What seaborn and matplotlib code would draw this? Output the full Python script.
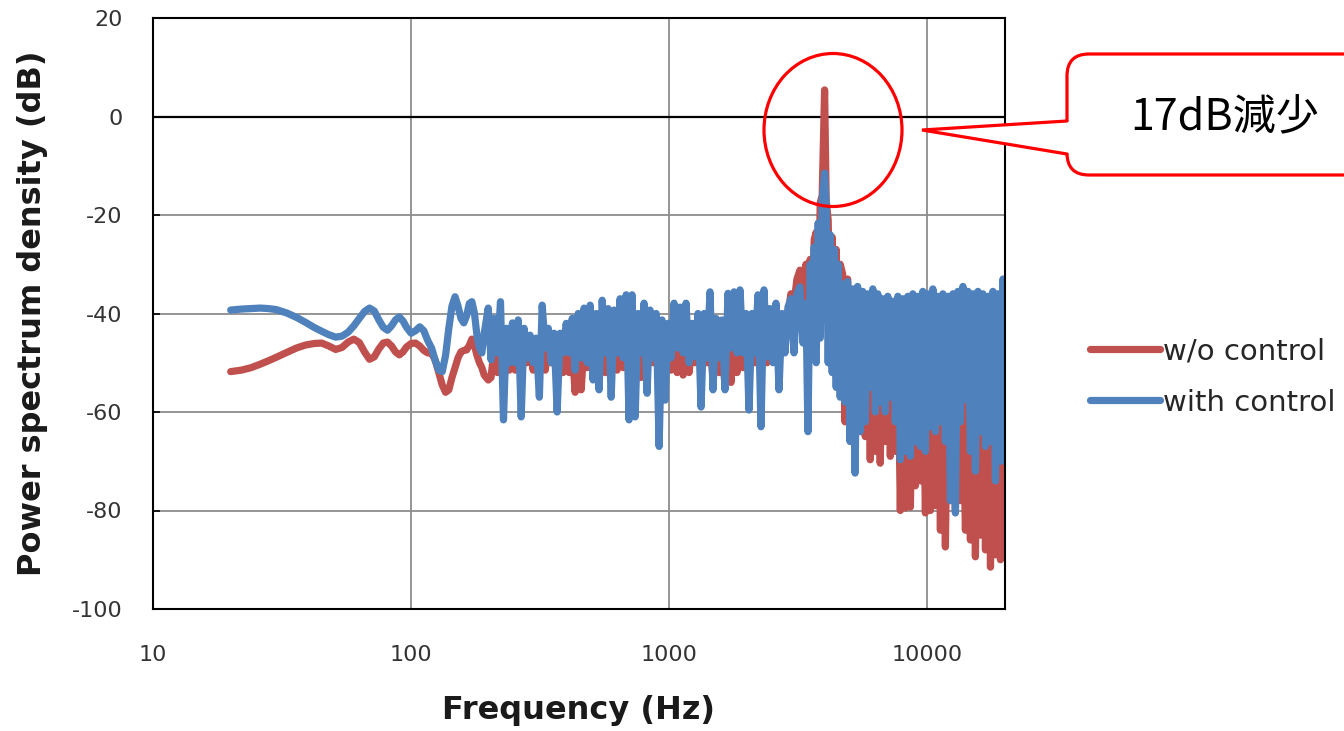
import pandas as pd
import matplotlib
matplotlib.use('Agg')
import matplotlib.pyplot as plt
import seaborn as sns
from matplotlib.patches import Ellipse, FancyBboxPatch, Polygon
from matplotlib.ticker import NullLocator

# frequency grid (Hz): smooth low band, noisy mid band, peak, dense high band
freq_hz = [
    # 20 - 192 Hz
    20, 22, 24, 26, 28, 30, 33, 36, 39, 42, 45, 48, 51, 54, 57, 60, 63, 66, 69, 72,
    75, 78, 81, 84, 87, 90, 93, 96, 100, 104, 108, 112, 116, 120, 124, 128, 132, 136,
    140, 144, 148, 152, 156, 160, 164, 168, 172, 176, 180, 184, 188, 192,
    # 199 - 2885 Hz
    199, 204, 210, 216, 222, 228, 234, 240, 247, 253,
    260, 267, 274, 282, 289, 297, 305, 314, 322, 331,
    340, 349, 358, 368, 378, 388, 399, 410, 421, 432,
    444, 456, 468, 481, 494, 507, 521, 535, 550, 565,
    580, 596, 612, 628, 645, 663, 681, 699, 718, 738,
    758, 778, 799, 821, 843, 866, 890, 914, 938, 964,
    990, 1017, 1044, 1073, 1102, 1132, 1162, 1194, 1226, 1259,
    1293, 1329, 1365, 1402, 1439, 1478, 1519, 1560, 1602, 1645,
    1690, 1736, 1783, 1831, 1881, 1932, 1984, 2038, 2093, 2150,
    2208, 2268, 2329, 2392, 2457, 2524, 2592, 2663, 2735, 2809,
    2885,
    # around the 4 kHz tone
    2963, 3044, 3126, 3211, 3298, 3387, 3448, 3518, 3581, 3646, 3711, 3778,
    3846, 3915, 4000, 4057, 4130, 4205, 4281, 4358, 4436, 4516, 4597,
    # 4.7 - 20 kHz
    4700, 4800, 4910, 5020, 5140, 5250, 5370, 5490, 5620, 5750, 5880, 6010, 6150,
    6290, 6430, 6570, 6720, 6870, 7030, 7190, 7350, 7520, 7690, 7860, 8040, 8220,
    8410, 8600, 8790, 8990, 9190, 9400, 9610, 9830, 10050, 10280, 10510, 10750,
    10990, 11240, 11490, 11750, 12020, 12290, 12570, 12850, 13140, 13440, 13740,
    14050, 14370, 14690, 15020, 15360, 15710, 16070, 16430, 16800, 17180, 17570,
    17960, 18370, 18780, 19210, 19640, 20000,
]

wo_control_db = [
    -51.8, -51.5, -51.0, -50.3, -49.6, -48.9, -47.9, -47.0, -46.4, -46.1, -46.0, -46.6,
    -47.3, -46.9, -45.8, -45.2, -45.9, -47.8, -49.3, -48.8, -47.2, -46.0, -45.8, -46.6,
    -47.8, -48.4, -47.8, -46.8, -46.1, -46.0, -46.6, -47.5, -48.0, -48.0, -49.5, -52.0,
    -54.5, -56.0, -55.5, -53.0, -51.0, -49.0, -47.8, -47.5, -47.4, -46.5, -45.2, -46.5,
    -48.5, -50.0, -51.0, -52.5,
    -53.5, -53, -47, -52, -46, -52, -45, -51.5, -44, -51.5,
    -45, -51.5, -46, -50, -46, -51.5, -46, -51, -46, -51.5,
    -46, -50, -46, -49, -46, -52, -46, -52, -47, -56,
    -47, -55.5, -46, -51, -46, -52, -45, -50, -45, -52,
    -45, -50, -45, -51.5, -45, -51, -45, -52, -46, -54,
    -46, -53, -46, -51, -45, -50, -46, -52, -46, -50,
    -45, -51.5, -46, -52, -46, -52.5, -46, -52, -46, -50,
    -45, -51, -45, -50, -45, -53.5, -45, -52, -45, -55,
    -45, -54, -45, -52, -45, -51, -45, -51, -44, -50,
    -44, -50, -44, -50, -43, -49, -42, -47, -41, -42,
    -40,
    -36, -38, -33, -31.2, -44, -30, -46, -29, -45, -25, -23.5, -44,
    -17.6, -16, 5.4, -17, -21, -44, -24.5, -47, -27, -49, -30,
    -32.0, -62.0, -33.0, -60.0, -36.0, -62.0, -40.0, -63.0, -42.0, -65.0, -42.0, -69.7,
    -44.0, -68.0, -43.0, -70.4, -45.0, -66.0, -44.0, -69.0, -46.0, -68.0, -45.0, -80.0,
    -46.0, -79.5, -47.0, -79.3, -45.0, -75.0, -46.0, -74.0, -45.0, -80.5, -47.0, -80.0,
    -46.0, -79.0, -48.0, -84.0, -47.0, -87.4, -49.0, -78.0, -48.0, -80.0, -50.0, -78.0,
    -58.0, -84.0, -58.0, -86.0, -50.0, -89.4, -52.0, -85.0, -49.0, -88.0, -48.0, -91.5,
    -50.0, -89.0, -49.0, -90.0, -48.0, -89.4,
]

with_control_db = [
    -39.3, -39.1, -39.0, -38.9, -39.0, -39.2, -39.9, -40.8, -41.8, -42.8, -43.6, -44.3,
    -44.8, -44.6, -43.8, -42.5, -41.0, -39.6, -38.9, -39.5, -41.3, -42.8, -43.4, -42.5,
    -41.3, -40.7, -41.5, -42.8, -44.0, -43.5, -42.7, -43.5, -45.5, -47.0, -49.5, -51.5,
    -51.8, -48.5, -43.0, -38.5, -36.6, -38.5, -41.0, -41.9, -40.5, -38.0, -37.6, -40.0,
    -44.5, -47.0, -48.0, -44.0,
    -38.9, -49.4, -41, -48, -37.6, -61.6, -43, -50, -41.9, -50,
    -41.3, -61, -43, -49, -44.4, -50, -45, -57, -38.3, -47,
    -43, -50, -44, -60, -44, -48, -42, -48, -41, -51.5,
    -40, -49, -38.9, -50, -38.3, -53.5, -40, -55.5, -37.3, -48,
    -39, -57, -39.3, -48, -37, -49, -36.2, -61.6, -36.2, -61,
    -40, -48, -37.9, -56.2, -39.3, -49, -40, -67, -41.3, -57.6,
    -42, -49, -37.9, -47, -38.7, -48, -37.9, -50, -42, -48.8,
    -40, -59, -40, -49, -35.6, -55.5, -41, -49, -41.3, -55.5,
    -35.9, -47, -35.6, -48, -35.2, -48, -40, -59.6, -40, -48,
    -36.2, -63, -35.2, -48.8, -39, -50, -37.9, -55.5, -40, -48,
    -38.7,
    -37, -48, -36, -34.6, -46, -38, -64, -30, -48, -26.5, -50, -21.6,
    -45, -17, -11.5, -18, -50, -24, -52, -27, -55, -30, -57,
    -34.0, -58.0, -33.5, -66.0, -35.0, -72.4, -34.5, -64.0, -35.5, -62.0, -36.0, -55.0,
    -35.0, -60.0, -36.0, -58.0, -37.0, -60.0, -36.5, -57.0, -37.5, -62.0, -36.5, -69.7,
    -37.0, -68.0, -36.5, -69.0, -36.0, -66.0, -36.5, -67.0, -35.5, -68.0, -36.0, -63.0,
    -35.0, -64.0, -36.5, -62.0, -36.0, -66.0, -36.5, -78.0, -36.0, -80.5, -35.5, -62.0,
    -34.5, -57.5, -35.5, -68.0, -36.0, -72.0, -35.5, -64.0, -36.0, -67.0, -36.5, -66.0,
    -35.5, -74.0, -36.0, -70.0, -33.0, -70.0,
]

series_names = ['w/o control', 'with control']
series_colors = ['#C0504D', '#4F81BD']
x_ticks = [10, 100, 1000, 10000]
x_tick_labels = ['10', '100', '1000', '10000']
y_ticks = [-100, -80, -60, -40, -20, 0, 20]
note_text = '17dB減少'

sns.set_theme(style='white')
plt.rcParams['font.family'] = ['DejaVu Sans', 'Noto Sans CJK JP']
plt.rcParams['axes.unicode_minus'] = False
plt.rcParams['path.simplify'] = False

n = len(freq_hz)
df = pd.DataFrame({
    'freq': freq_hz + freq_hz,
    'psd': wo_control_db + with_control_db,
    'series': [series_names[0]] * n + [series_names[1]] * n,
})

W, H = 1344, 731
LW = 5.2
fig = plt.figure(figsize=(W / 100, H / 100), dpi=100)
ax = fig.add_axes([153 / W, 1 - 609 / H, (1005 - 153) / W, (609 - 18) / H])

sns.lineplot(data=df, x='freq', y='psd', hue='series', hue_order=series_names,
             palette=series_colors, estimator=None, sort=False, lw=LW, ax=ax)

ax.set_xscale('log')
ax.set_xlim(10, 20000)
ax.set_ylim(-100, 20)
ax.set_xticks(x_ticks)
ax.set_xticklabels(x_tick_labels)
ax.xaxis.set_minor_locator(NullLocator())
ax.set_yticks(y_ticks)

ax.grid(True, color='#8C8C8C', lw=1.3)
ax.set_axisbelow(True)
ax.axhline(0, color='black', lw=1.6, zorder=1.5)
for s in ax.spines.values():
    s.set_color('black')
    s.set_linewidth(1.5)

ax.tick_params(axis='x', length=0, pad=26, labelsize=16, labelcolor='#333333')
ax.tick_params(axis='y', left=True, direction='in', length=5, width=1.2,
               color='black', pad=22, labelsize=16, labelcolor='#333333')

ax.set_xlabel('Frequency (Hz)', fontsize=23, fontweight='bold', color='#1a1a1a')
ax.set_ylabel('Power spectrum density (dB)', fontsize=23, fontweight='bold', color='#1a1a1a')
ax.xaxis.set_label_coords(0.5, -0.171)
ax.xaxis.label.set_va('center')
ax.yaxis.set_label_coords(-0.141, 0.5)
ax.yaxis.label.set_va('center')

handles, labels = ax.get_legend_handles_labels()
leg = ax.legend(handles, labels, loc='center left', bbox_to_anchor=(1090 / W, 1 - 377 / H),
                bbox_transform=fig.transFigure, frameon=False, fontsize=21,
                handlelength=2.4, handletextpad=0.1, labelspacing=0.8,
                borderpad=0, borderaxespad=0)
for h in leg.legend_handles:
    h.set_linewidth(LW)
for t in leg.get_texts():
    t.set_color('#262626')

# annotation layer in pixel units
ov = fig.add_axes([0, 0, 1, 1])
ov.set_xlim(0, W)
ov.set_ylim(H, 0)
ov.axis('off')
ov.add_patch(Ellipse((833, 130), 138, 153, fill=False, ec='#FF0000', lw=2.3))
ov.add_patch(FancyBboxPatch((1067, 54), 320, 121, boxstyle='round,pad=0,rounding_size=22',
                            fc='white', ec='#FF0000', lw=2.3))
ov.add_patch(Polygon([(922, 130), (1072, 121), (1072, 154)], closed=True, fc='white', ec='none', zorder=3))
ov.plot([1067, 922, 1067], [121, 130, 154], color='#FF0000', lw=2.3, zorder=4,
        solid_joinstyle='miter')
ov.text(1225, 118, note_text, ha='center', va='center', fontsize=31,
        family=['Noto Sans CJK JP', 'DejaVu Sans'], color='black', zorder=5)

fig.savefig('out.png', dpi=100)
